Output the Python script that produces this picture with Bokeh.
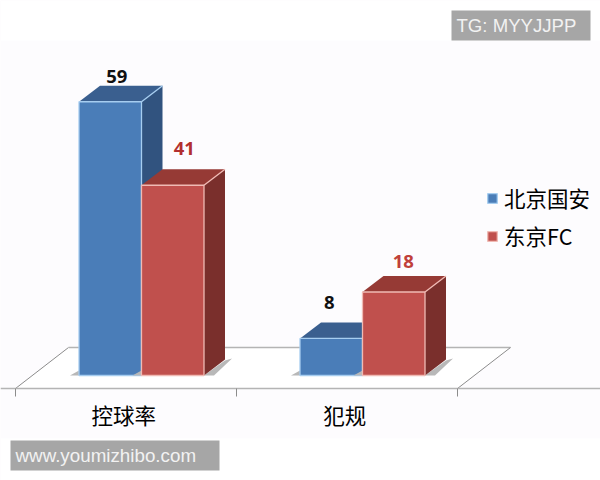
from bokeh.embed import file_html
from bokeh.resources import INLINE
from bokeh.plotting import figure
from bokeh.models import (Range1d, LinearAxis, FixedTicker, Label, BoxAnnotation, Legend, LegendItem,
                          ColumnDataSource)
from bokeh.core.properties import value

categories = ["控球率", "犯规"]
beijing = [59, 8]
tokyo = [41, 18]
series_names = ["北京国安", "东京FC"]

PX_X = 221.0      # px per category
PX_Y = 4.64       # px per value unit
W, H = 600, 480
AXIS_Y, BASE_Y, LEFT_X = 388, 375, 15
x0 = (0 - LEFT_X) / PX_X
x1 = (W - LEFT_X) / PX_X
y0 = (BASE_Y - H) / PX_Y
y1 = BASE_Y / PX_Y

p = figure(width=W, height=H, output_backend="svg", toolbar_location=None,
           x_range=Range1d(x0, x1), y_range=Range1d(y0, y1),
           x_axis_location=None, y_axis_location=None,
           min_border_left=0, min_border_right=0, min_border_top=0, min_border_bottom=0,
           outline_line_color=None, background_fill_color="#fdfcfe", border_fill_color="#fdfcfe")
p.grid.visible = False


def sx(v):
    return v / PX_X


def sy(v):
    return v / PX_Y


def vy(c):
    # annotation screen units count upwards from the frame's bottom edge
    return H - c


def box(l, r, t, b, color, level):
    return BoxAnnotation(left=l, right=r, top=vy(t), bottom=vy(b), left_units="screen", right_units="screen",
                         top_units="screen", bottom_units="screen", fill_color=color, fill_alpha=1,
                         line_color=None, level=level)


# white margins of the image
p.add_layout(box(0, W, 0, 40, "white", "underlay"))
p.add_layout(box(0, W, 438, H, "white", "underlay"))

# floor
fd_x, fd_h = sx(53), sy(41)
fl = (BASE_Y - AXIS_Y) / PX_Y
p.patch([0, fd_x, 2 + fd_x, 2], [fl, fl + fd_h, fl + fd_h, fl], fill_color="#ffffff", line_color=None)
p.multi_line([[0, fd_x], [fd_x, 2 + fd_x], [2, 2 + fd_x]],
             [[fl, fl + fd_h], [fl + fd_h, fl + fd_h], [fl, fl + fd_h]],
             line_color=["#8c8c8c", "#b4b4b4", "#8c8c8c"], line_width=[1, 1.6, 1])

# bars
group_center = [sx(126), sx(347)]
bar_w = sx(62.5)
dx, dy = sx(21), sy(16)
shadow = "#b8b8b8"

styles = [
    (beijing, -1, "#4a7db8", "#3a5f8f", "#31537f", "#a6cdf0"),
    (tokyo, 1, "#c0504d", "#963a35", "#7a2f2c", "#f0bab4"),
]
legend_items = []
centers = {}
for (vals, sign, front, top, side, edge), name in zip(styles, series_names):
    xs = [c + sign * bar_w / 2 for c in group_center]
    centers[name] = xs
    lefts = [c - bar_w / 2 for c in xs]
    rights = [c + bar_w / 2 for c in xs]
    # contact shadows on the floor
    p.patches([[l - sx(9), l, l] for l in lefts], [[0, sy(5), 0] for _ in vals], fill_color=shadow, line_color=None)
    p.patches([[r, r + sx(21), r + sx(28), r + sx(10)] for r in rights],
              [[0, sy(15), sy(17), 0] for _ in vals], fill_color=shadow, line_color=None)
    # side and top faces
    p.patches([[r, r + dx, r + dx, r] for r in rights],
              [[0, dy, v + dy, v] for v in vals], fill_color=side, line_color=None)
    p.patches([[l, l + dx, r + dx, r] for l, r in zip(lefts, rights)],
              [[v, v + dy, v + dy, v] for v in vals], fill_color=top, line_color=None)
    p.multi_line([[r, r + dx] for r in rights], [[v, v + dy] for v in vals], line_color=edge, line_width=1.3)
    bar = p.vbar(x=xs, top=vals, bottom=0, width=bar_w, fill_color=front, line_color=edge, line_width=1.3)
    legend_items.append(LegendItem(label=name, renderers=[bar]))

# value labels
label_src = ColumnDataSource(dict(
    x=centers[series_names[0]] + centers[series_names[1]],
    y=beijing + tokyo,
    text=[str(v) for v in beijing + tokyo],
    dx=[6.5, -2, 11.5, 9.5],
    dy=[-25, -36, -37, -30],
    color=["#111111", "#111111", "#b22f2f", "#c0403a"],
))
p.text(x="x", y="y", text="text", x_offset="dx", y_offset="dy", text_color="color", source=label_src,
       text_font=value("Open Sans"), text_font_style="bold", text_font_size="18.5px",
       text_align="center", text_baseline="middle")

# axis with category names between its ticks
ax = LinearAxis(ticker=FixedTicker(ticks=[0.49, 1.49], minor_ticks=[0, 1, 2]),
                major_label_overrides={0.49: categories[0], 1.49: categories[1]},
                fixed_location=fl,
                axis_line_color="#b4b4b4", axis_line_width=1.6,
                major_tick_line_color=None, major_tick_in=0, major_tick_out=0,
                minor_tick_line_color="#8c8c8c", minor_tick_in=0, minor_tick_out=8,
                major_label_standoff=2, major_label_text_color="#000000",
                major_label_text_font="Noto Sans CJK SC", major_label_text_font_size="21.5px")
p.add_layout(ax, "below")

# legend
legend = Legend(items=legend_items, location=(486, 229), orientation="vertical",
                background_fill_alpha=0, border_line_color=None, margin=0, padding=0,
                spacing=7, glyph_width=12, glyph_height=12, label_standoff=6,
                label_text_font="Noto Sans CJK SC", label_text_font_size="21.5px", label_text_color="#000000",
                label_height=26)
p.add_layout(legend, "center")

# watermarks
for (l, r, t, b, tx, size, txt) in [(451, 590, 10, 40, 456, "18.6px", "TG: MYYJJPP"),
                                    (10, 219, 440, 470, 15, "18.8px", "www.youmizhibo.com")]:
    p.add_layout(box(l, r, t, b, "#a6a6a6", "overlay"))
    p.add_layout(Label(x=tx, y=vy((t + b) / 2), x_units="screen", y_units="screen", text=txt,
                       text_font="Liberation Sans", text_font_size=size, text_color="#f2f2f2",
                       text_baseline="middle", level="overlay"))

open("out.html", "w").write(file_html(p, INLINE))
